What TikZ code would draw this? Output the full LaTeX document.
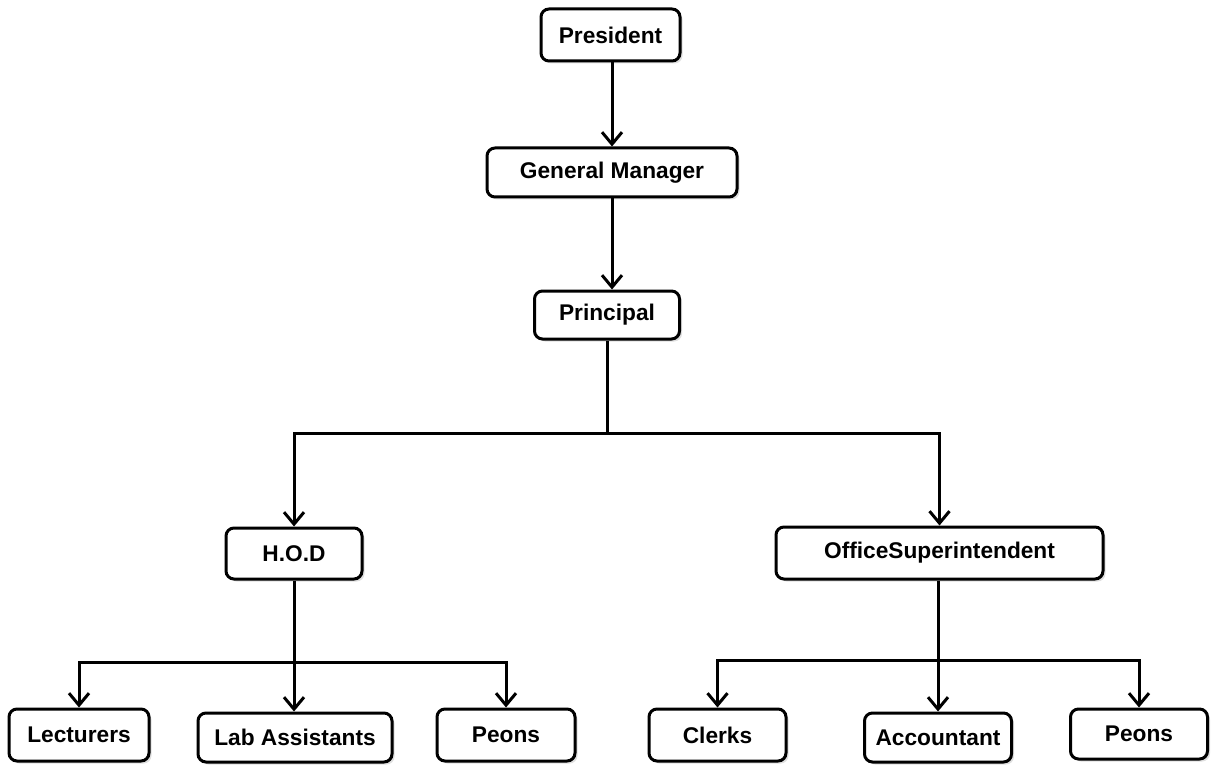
\documentclass[tikz,border=0pt]{standalone}
\usepackage{fontspec}
\setmainfont{Liberation Sans}
\usetikzlibrary{arrows.meta,shadows}

\begin{document}
\begin{tikzpicture}[
				x=1pt,
				y=-1pt,
				line width=3pt,
				post/.style={
						draw,
						rounded corners=8pt,
						fill=white,
						drop shadow={opacity=0.25,shadow xshift=2.5pt,shadow yshift=-2.5pt},
						inner sep=0pt,
						font=\bfseries\fontsize{22.7}{26}\selectfont,
						},
				link/.style={-{Straight Barb[length=12pt,width=20pt,line width=3pt]}},
				]
				\useasboundingbox (0,0) rectangle (1212,767);
				% top of the chart
				\node [post, minimum width=139pt, minimum height=52pt] (pres) at (610.5,35) {President};
				\node [post, minimum width=250pt, minimum height=49pt] (gm) at (612,172.5) {General Manager};
				\node [post, minimum width=145pt, minimum height=48pt] (princ) at (607,315) {Principal};
				% second level
				\node [post, minimum width=136pt, minimum height=51pt] (hod) at (294,553.5) {H.O.D};
				\node [post, minimum width=327pt, minimum height=52pt] (os) at (939.5,553) {OfficeSuperintendent};
				% bottom row
				\node [post, minimum width=140pt, minimum height=52pt] (lect) at (79,735) {Lecturers};
				\node [post, minimum width=194pt, minimum height=49pt] (lab) at (295,737.5) {Lab Assistants};
				\node [post, minimum width=138pt, minimum height=52pt] (peon1) at (506,735) {Peons};
				\node [post, minimum width=137pt, minimum height=52pt] (clerks) at (717.5,735) {Clerks};
				\node [post, minimum width=147pt, minimum height=49pt] (acct) at (938,737.5) {Accountant};
				\node [post, minimum width=137pt, minimum height=50pt] (peon2) at (1139,734) {Peons};

				\draw [link] (pres.south -| gm.north) -- (gm.north);
				\draw [link] (gm.south) -- (gm.south |- princ.north);

				\coordinate (split) at (princ.south |- 0,433);
				\draw (princ.south) -- (split);
				\draw [link] (split) -| (hod.north);
				\draw [link] (split) -| (os.north);

				\coordinate (hodsplit) at (hod.south |- 0,662);
				\draw [link] (hod.south) -- (hod.south |- lab.north);
				\draw [link] (hodsplit) -| (lect.north);
				\draw [link] (hodsplit) -| (peon1.north);

				\coordinate (ossplit) at (acct.north |- 0,660);
				\draw [link] (os.south -| acct.north) -- (acct.north);
				\draw [link] (ossplit) -| (clerks.north);
				\draw [link] (ossplit) -| (peon2.north);
\end{tikzpicture}
\end{document}
